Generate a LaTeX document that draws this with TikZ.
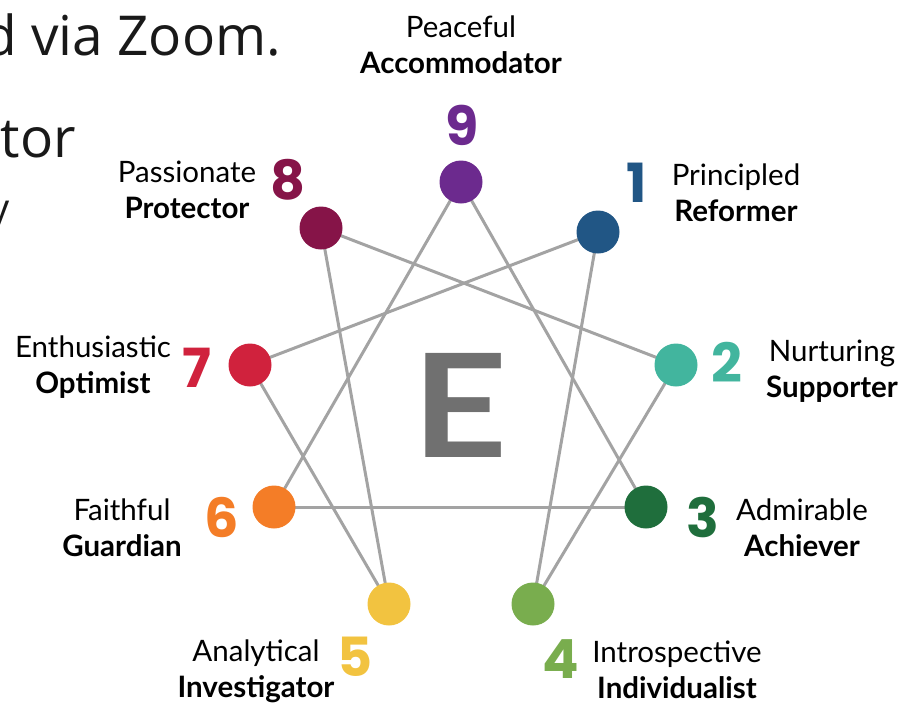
\documentclass[tikz,border=0pt]{standalone}
\usepackage{fontspec}
\setmainfont{Lato}
\newfontfamily\numfont{Poppins}
\newfontfamily\bgfont{Open Sans}
\usetikzlibrary{backgrounds}
\definecolor{cnine}{HTML}{6C2A8E}
\definecolor{cone}{HTML}{215685}
\definecolor{ctwo}{HTML}{42B59E}
\definecolor{cthree}{HTML}{1F6E3C}
\definecolor{cfour}{HTML}{79AD4E}
\definecolor{cfive}{HTML}{F2C340}
\definecolor{csix}{HTML}{F47D27}
\definecolor{cseven}{HTML}{D0223D}
\definecolor{ceight}{HTML}{861448}
\definecolor{linegray}{HTML}{A3A3A3}
\definecolor{egray}{HTML}{707070}
\tikzset{
  dot/.style={circle,fill=#1,minimum size=43pt,inner sep=0pt},
  num/.style={text=#1,font=\numfont\bfseries\fontsize{54}{54}\selectfont,inner sep=0pt},
  lbl/.style={align=center,font=\fontsize{29.5}{36}\selectfont,inner sep=0pt},
  link/.style={draw=linegray,line width=3pt},
  bgtext/.style={font=\bgfont\fontsize{55}{55}\selectfont,text=black!90,inner sep=0pt}
}
\begin{document}
\begin{tikzpicture}[x=1pt,y=-1pt]
\useasboundingbox (0,0) rectangle (915,702);
\begin{scope}
\clip (0,0) rectangle (915,702);
\node[bgtext,anchor=base west] (bg1) at (-17,55) {d via Zoom.};
\node[bgtext,anchor=base east] (bg2) at (76,157) {tor};
\node[bgtext,anchor=base east,font=\bgfont\fontsize{40}{40}\selectfont] (bg3) at (10,222) {y};
\end{scope}
% circles
\node[dot=cnine]  (n9) at (461,182) {};
\node[dot=cone]   (n1) at (598,232) {};
\node[dot=ctwo]   (n2) at (676,365) {};
\node[dot=cthree] (n3) at (646,507) {};
\node[dot=cfour]  (n4) at (533,604) {};
\node[dot=cfive]  (n5) at (389,604) {};
\node[dot=csix]   (n6) at (274,507) {};
\node[dot=cseven] (n7) at (250,365) {};
\node[dot=ceight] (n8) at (321,228) {};
\begin{scope}[on background layer]
\draw[link] (n9.center) -- (n3.center);
\draw[link] (n9.center) -- (n6.center);
\draw[link] (n3.center) -- (n6.center);
\draw[link] (n1.center) -- (n4.center);
\draw[link] (n4.center) -- (n2.center);
\draw[link] (n2.center) -- (n8.center);
\draw[link] (n8.center) -- (n5.center);
\draw[link] (n5.center) -- (n7.center);
\draw[link] (n7.center) -- (n1.center);
\end{scope}
% E
\node[text=egray,font=\bfseries\fontsize{144}{144}\selectfont,inner sep=0pt] (E) at (460,405) {\scalebox{1.15}[1]{E}};
% numbers
\node[num=cnine]  (d9) at (462,125) {9};
\node[num=cone]   (d1) at (637,183) {1};
\node[num=ctwo]   (d2) at (727,362) {2};
\node[num=cthree] (d3) at (703,517) {3};
\node[num=cfour]  (d4) at (561,659) {4};
\node[num=cfive]  (d5) at (355,657) {5};
\node[num=csix]   (d6) at (222,517) {6};
\node[num=cseven] (d7) at (197,368) {7};
\node[num=ceight] (d8) at (288,180) {8};
% labels
\node[lbl] (l9) at (461,45) {Peaceful\\\textbf{Accommodator}};
\node[lbl] (l1) at (736,193) {Principled\\\textbf{Reformer}};
\node[lbl] (l2) at (832,371) {Nurturing\\\textbf{Supporter}};
\node[lbl] (l3) at (802,528) {Admirable\\\textbf{Achiever}};
\node[lbl] (l4) at (677,670) {Introspective\\\textbf{Individualist}};
\node[lbl] (l5) at (256,671) {Analytical\\\textbf{Investigator}};
\node[lbl] (l6) at (122,528) {Faithful\\\textbf{Guardian}};
\node[lbl] (l7) at (93,367) {Enthusiastic\\\textbf{Optimist}};
\node[lbl] (l8) at (187,190) {Passionate\\\textbf{Protector}};
\end{tikzpicture}
\end{document}
